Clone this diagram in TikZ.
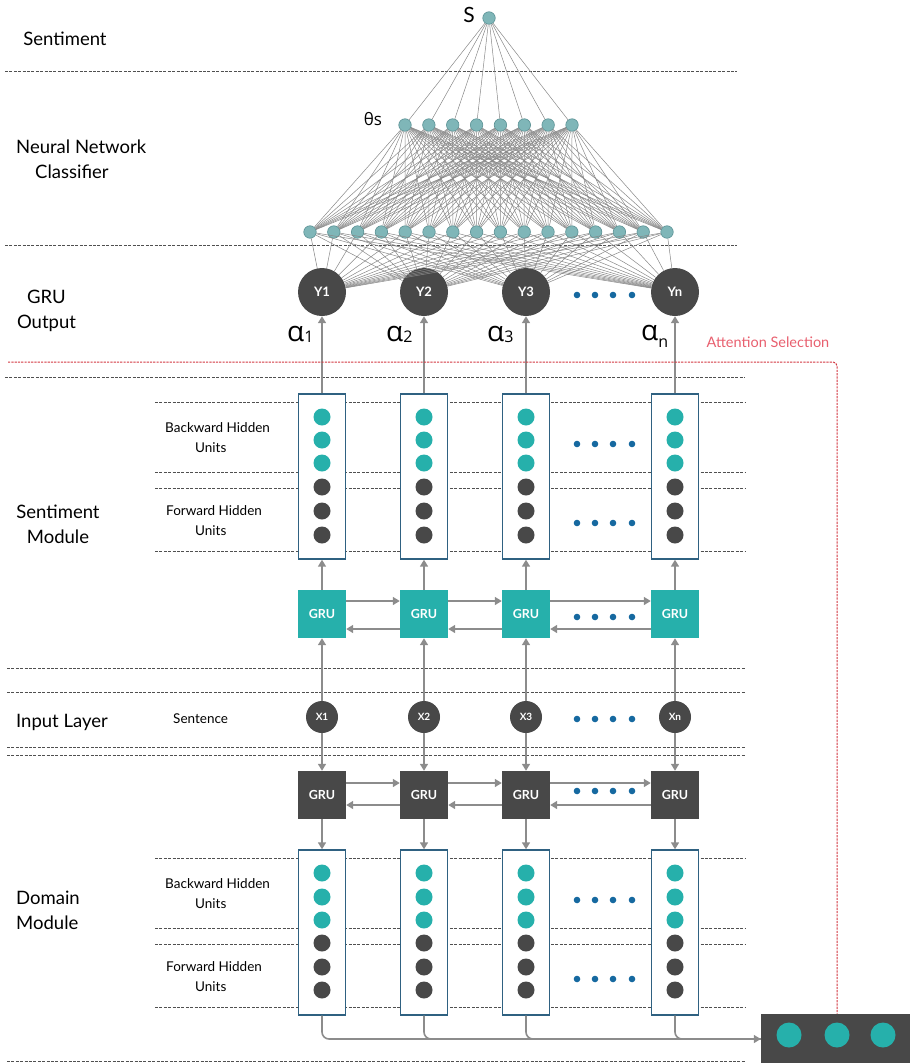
\documentclass[tikz,border=0pt]{standalone}
\usepackage{fontspec}
\setmainfont{Lato}
\newfontfamily\grk{Open Sans}
\usetikzlibrary{arrows.meta,calc}
\definecolor{tealc}{RGB}{38,176,171}
\definecolor{darkc}{RGB}{72,72,72}
\definecolor{boxblue}{RGB}{47,97,129}
\definecolor{dotblue}{RGB}{22,105,160}
\definecolor{linegray}{RGB}{140,140,140}
\definecolor{rulegray}{RGB}{80,80,80}
\definecolor{nnfill}{RGB}{127,182,184}
\definecolor{nnborder}{RGB}{90,145,148}
\definecolor{nnline}{RGB}{135,135,135}
\definecolor{redline}{RGB}{210,55,65}
\definecolor{redtext}{RGB}{232,95,110}
\begin{document}
\begin{tikzpicture}[x=1pt,y=-1pt,
  gline/.style={draw=linegray, line width=1.6pt},
  arr/.style={gline, -{Triangle[length=7pt,width=8pt]}},
  rule/.style={draw=rulegray, line width=1pt, dash pattern=on 3pt off 1.4pt},
  redd/.style={draw=redline, line width=1pt, dash pattern=on 2.2pt off 1.1pt},
  nn/.style={circle, fill=nnfill, draw=nnborder, line width=0.6pt, minimum size=12.5pt, inner sep=0pt},
  nnl/.style={draw=nnline, line width=0.5pt},
  ynode/.style={circle, fill=darkc, minimum size=48pt, inner sep=0pt, text=white, font=\fontsize{13}{13}\selectfont\bfseries},
  hbox/.style={rectangle, draw=boxblue, line width=1.4pt, fill=white, minimum width=47pt, minimum height=165pt, inner sep=0pt},
  unitT/.style={circle, fill=tealc, minimum size=17pt, inner sep=0pt},
  unitD/.style={circle, fill=darkc, minimum size=17pt, inner sep=0pt},
  gruT/.style={rectangle, fill=tealc, minimum size=48pt, inner sep=0pt, text=white, font=\fontsize{12.5}{13}\selectfont\bfseries},
  gruD/.style={rectangle, fill=darkc, minimum size=48pt, inner sep=0pt, text=white, font=\fontsize{12.5}{13}\selectfont\bfseries},
  xnode/.style={circle, fill=darkc, minimum size=32pt, inner sep=0pt, text=white, font=\fontsize{10}{10}\selectfont\bfseries},
  biglab/.style={font=\fontsize{18.5}{25}\selectfont, inner sep=0pt},
  smalllab/.style={font=\fontsize{13.5}{20}\selectfont, inner sep=0pt, align=left, anchor=west},
  alab/.style={font=\grk\fontsize{28}{28}\selectfont, inner sep=0pt, anchor=base west},
]
\useasboundingbox (0,0) rectangle (910,1063);

% horizontal dashed rules
\foreach \y in {71,245} \draw[rule] (5,\y) -- (737,\y);
\draw[rule] (5,377) -- (745,377);
\foreach \y in {402,472,488,551} \draw[rule] (155,\y) -- (745,\y);
\foreach \y in {668,692,747,755} \draw[rule] (7,\y) -- (746,\y);
\foreach \y in {858,928,944,1007} \draw[rule] (155,\y) -- (745,\y);
\draw[rule] (7,1061) -- (745,1061);

% left labels
\node[biglab] (lsent) at (65,39) {Sentiment};
\node[biglab, align=left, anchor=west] (lnn) at (16,159.5) {Neural Network\\\hspace*{19pt}Classifier};
\node[biglab, align=center] (lgru) at (46.5,310.5) {GRU\\Output};
\node[biglab, align=center] (lsm) at (58,524.5) {Sentiment\\Module};
\node[biglab] (lin) at (62,722) {Input Layer};
\node[biglab, align=left, anchor=west] (ldm) at (16,910.5) {Domain\\Module};

% small labels
\node[smalllab] (bw1) at (165,438) {Backward Hidden\\\hspace*{30pt}Units};
\node[smalllab] (fw1) at (166,520.5) {Forward Hidden\\\hspace*{29pt}Units};
\node[smalllab] (sen) at (173,719) {Sentence};
\node[smalllab] (bw2) at (165,894) {Backward Hidden\\\hspace*{30pt}Units};
\node[smalllab] (fw2) at (166,976.5) {Forward Hidden\\\hspace*{29pt}Units};

% attention selection
\node[font=\fontsize{14.5}{15}\selectfont, text=redtext, inner sep=0pt] (att) at (768,342) {Attention Selection};

% column elements
\foreach \i/\x in {1/322,2/424,3/526,n/675}{
  \node[ynode] (Y\i) at (\x,292) {Y\i};
  \node[hbox] (sb\i) at (\x,476.5) {};
  \foreach \k/\yy in {1/417,2/440,3/463}
    \node[unitT] (su\i\k) at (\x,\yy) {};
  \foreach \k/\yy in {4/487,5/511,6/535}
    \node[unitD] (su\i\k) at (\x,\yy) {};
  \node[gruT] (g\i) at (\x,614) {GRU};
  \node[xnode] (x\i) at (\x,717) {X\i};
  \node[gruD] (dg\i) at (\x,795) {GRU};
  \node[hbox] (db\i) at (\x,932.5) {};
  \foreach \k/\yy in {1/873,2/897,3/920}
    \node[unitT] (du\i\k) at (\x,\yy) {};
  \foreach \k/\yy in {4/943,5/967,6/990}
    \node[unitD] (du\i\k) at (\x,\yy) {};
  \draw[arr] (sb\i.north) -- (Y\i.south);
  \draw[arr] (g\i.north) -- (sb\i.south);
  \draw[arr] (x\i.north) -- (g\i.south);
  \draw[arr] (x\i.south) -- (dg\i.north);
  \draw[arr] (dg\i.south) -- (db\i.north);
}

% horizontal GRU arrows
\foreach \a/\b in {1/2,2/3,3/n}{
  \draw[arr] ([yshift=13pt]g\a.east) -- ([yshift=13pt]g\b.west);
  \draw[arr] ([yshift=-15pt]g\b.west) -- ([yshift=-15pt]g\a.east);
  \draw[arr] ([yshift=12pt]dg\a.east) -- ([yshift=12pt]dg\b.west);
  \draw[arr] ([yshift=-10pt]dg\b.west) -- ([yshift=-10pt]dg\a.east);
}

% ellipsis dots
\foreach \yy in {295,444,523,617,719,791,900,979}
  \foreach \xx in {577,595,613,632}
    \fill[dotblue] (\xx,\yy) circle (3.3pt);

% alpha labels
\node[alab] (al1) at (287,341) {α\raisebox{-1.5pt}{\fontsize{16}{16}\selectfont 1}};
\node[alab] (al2) at (386,341) {α\raisebox{-1.5pt}{\fontsize{16}{16}\selectfont 2}};
\node[alab] (al3) at (487,341) {α\raisebox{-1.5pt}{\fontsize{16}{16}\selectfont 3}};
\node[alab] (aln) at (641,340) {α\raisebox{-7pt}{\fontsize{16}{16}\selectfont n}};

% neural network classifier
\node[nn] (S) at (489,18) {};
\node[font=\fontsize{21}{21}\selectfont, inner sep=0pt] (Slab) at (469,15) {S};
\node[font=\grk\fontsize{17}{17}\selectfont, inner sep=0pt] (thlab) at (373,119) {θs};
\foreach \k in {1,...,8} \node[nn] (t\k) at ({405+(\k-1)*23.86},125) {};
\foreach \k in {1,...,16} \node[nn] (b\k) at ({310+(\k-1)*23.8},232) {};
\foreach \k in {1,...,8} \draw[nnl] (S) -- (t\k);
\foreach \a in {1,...,8} \foreach \b in {1,...,16} \draw[nnl] (t\a) -- (b\b);
\foreach \b in {1,...,16} \foreach \c in {1,2,3,n} \draw[nnl] (b\b) -- (Y\c);

% aggregation box
\node[rectangle, fill=darkc, minimum width=150pt, minimum height=50pt, inner sep=0pt] (agg) at (836,1039) {};
\node[unitT, minimum size=25pt] (ag1) at (789,1035) {};
\node[unitT, minimum size=25pt] (ag2) at (837,1035) {};
\node[unitT, minimum size=25pt] (ag3) at (883,1035) {};
\draw[arr, rounded corners=7pt] (db1.south) |- (agg.west);
\foreach \c in {2,3,n} \draw[gline, rounded corners=7pt] (db\c.south) |- (agg.west);

% attention dashed red line
\coordinate (rs) at (8,362);
\draw[redd, rounded corners=4pt] (rs) -| (agg.north -| ag2);
\end{tikzpicture}
\end{document}
